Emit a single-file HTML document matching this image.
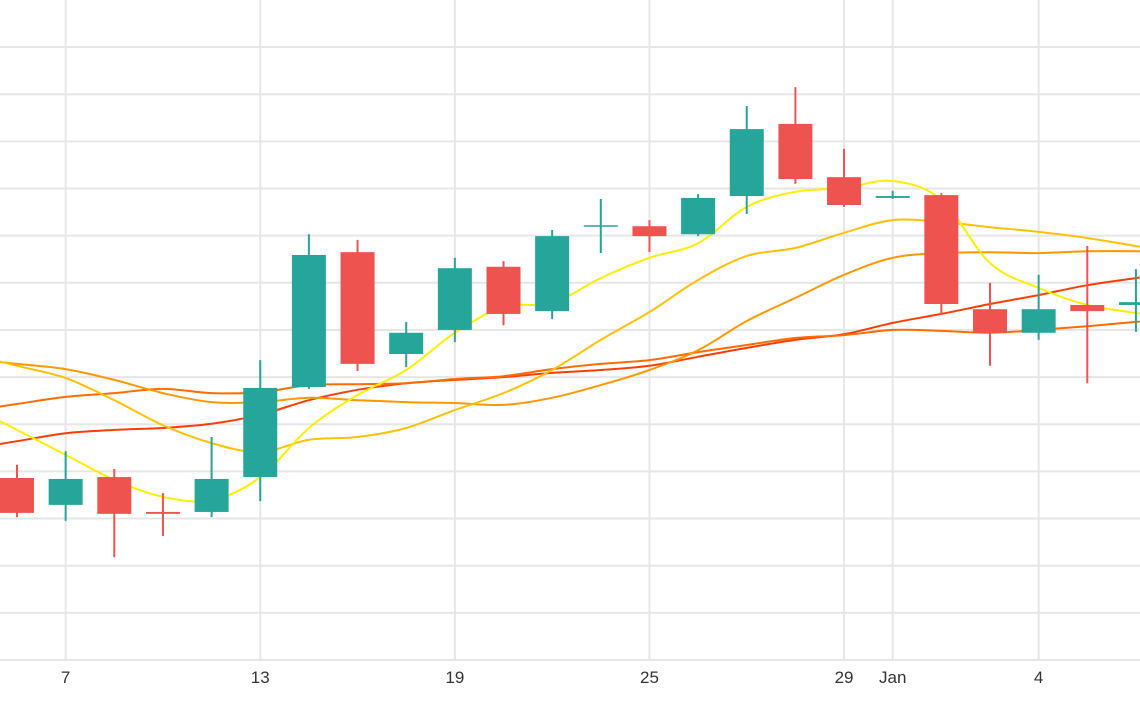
<!DOCTYPE html>
<html><head><meta charset="utf-8">
<style>
html,body{margin:0;padding:0;background:#fff;}
svg{display:block;font-family:"Liberation Sans",sans-serif;}
</style></head>
<body>
<svg id="chart" width="1140" height="710" viewBox="0 0 1140 710" xmlns="http://www.w3.org/2000/svg">
<g id="grid"></g>
<g id="mas"></g>
<g id="candles"></g>
<g id="xaxis"></g>
</svg>
<script>
const opens  = [38.6,32.9,38.8,31.4,31.4,38.8,57.9,86.5,64.9,70.0,83.4,74.0,91.9,92.0,90.3,98.4,113.7,102.4,98.0,98.6,74.4,69.4,75.3,75.3];
const highs  = [41.4,44.3,40.5,35.4,47.3,63.6,90.3,89.1,71.7,85.3,84.6,91.2,97.8,93.3,98.8,117.5,121.5,108.4,99.5,99.0,80.0,81.7,87.8,82.9];
const lows   = [30.3,29.5,21.8,26.3,30.3,33.7,57.5,61.3,62.1,67.4,71.0,72.3,86.3,86.5,89.9,94.6,101.0,96.1,97.8,73.2,62.4,67.9,58.7,69.6];
const closes = [31.2,38.4,31.0,31.0,38.4,57.7,85.9,62.8,69.4,83.1,73.4,89.9,92.2,89.9,98.0,112.6,102.0,96.5,98.4,75.5,69.4,74.4,74.0,75.9];
const maYellow = [48.8,43.5,38.2,34.6,33.9,38.8,49.2,56.2,61.5,69.4,74.9,75.7,81.0,85.3,88.4,96.1,99.3,100.1,101.6,97.6,84.2,78.9,75.3,73.6];
const maGold   = [62.4,59.8,55.1,49.8,46.0,44.1,46.7,47.3,49.2,53.0,56.6,61.5,67.9,73.8,80.6,85.7,87.4,90.6,93.3,92.9,91.8,90.8,89.5,87.8];
const maOrange = [62.8,61.7,59.4,56.6,54.7,54.7,55.6,55.1,54.7,54.5,54.1,55.6,58.3,61.5,65.7,71.9,76.8,81.7,85.3,86.3,86.5,86.3,86.7,86.7];
const maDark   = [54.3,55.8,56.6,57.5,56.6,56.8,58.3,58.5,58.7,59.6,60.2,61.7,62.8,63.6,65.3,66.8,68.3,68.9,70.0,69.8,69.4,70.0,70.8,71.7];
const maRed    = [46.4,48.1,48.8,49.2,50.1,52.0,55.1,57.3,58.7,59.4,60.0,60.9,61.5,62.4,64.3,66.2,67.9,69.1,71.5,73.4,75.5,77.4,79.5,81.0];
const tickIdx    = [1,5,9,13,17,18,21];
const tickLabels = ["7","13","19","25","29","Jan","4"];
const yTicks = [10,20,30,40,50,60,70,80,90,100,110,120,130];

const NS="http://www.w3.org/2000/svg";
const X0=17, DX=48.65, Y0=660, KY=4.715;
function xs(i){return X0+DX*i;}
function ys(v){return Y0-v*KY;}
function mk(tag,attrs,parent){const e=document.createElementNS(NS,tag);for(const k in attrs)e.setAttribute(k,attrs[k]);parent.appendChild(e);return e;}

const grid=document.getElementById('grid');
yTicks.forEach(function(v){
  const l=mk('line',{x1:0,x2:1140,y1:ys(v),y2:ys(v),stroke:'#e6e6e6','stroke-width':2},grid);
  
  
});
const base=mk('line',{x1:0,x2:1140,y1:Y0,y2:Y0,stroke:'#e6e6e6','stroke-width':2},grid);


const xa=document.getElementById('xaxis');
tickIdx.forEach(function(i,k){
  const l=mk('line',{x1:xs(i),x2:xs(i),y1:0,y2:Y0,stroke:'#e6e6e6','stroke-width':2},grid);
  
  
  const t=mk('text',{x:xs(i),y:683,'text-anchor':'middle','font-size':17,fill:'#333'},xa);
  t.textContent=tickLabels[k];
  
  
});

function smoothPath(vals){
  const pts=vals.map(function(v,i){return [xs(i),ys(v)];});
  const f=pts[0],s=pts[1];
  pts.unshift([f[0]-(s[0]-f[0]),f[1]-(s[1]-f[1])]);
  const l=pts[pts.length-1],p=pts[pts.length-2];
  pts.push([l[0]+(l[0]-p[0]),l[1]+(l[1]-p[1])]);
  let d='M'+pts[0][0]+','+pts[0][1];
  for(let i=0;i<pts.length-1;i++){
    const p0=pts[Math.max(0,i-1)],p1=pts[i],p2=pts[i+1],p3=pts[Math.min(pts.length-1,i+2)];
    const c1=[p1[0]+(p2[0]-p0[0])/6,p1[1]+(p2[1]-p0[1])/6];
    const c2=[p2[0]-(p3[0]-p1[0])/6,p2[1]-(p3[1]-p1[1])/6];
    d+=' C'+c1[0].toFixed(1)+','+c1[1].toFixed(1)+' '+c2[0].toFixed(1)+','+c2[1].toFixed(1)+' '+p2[0].toFixed(1)+','+p2[1].toFixed(1);
  }
  return d;
}
const mas=document.getElementById('mas');
const series=[[maRed,'#ff3d00','ma-red'],[maDark,'#ff6d00','ma-dark-orange'],[maOrange,'#ff9800','ma-orange'],[maGold,'#ffc107','ma-gold'],[maYellow,'#ffee00','ma-yellow']];
series.forEach(function(s){
  const p=mk('path',{d:smoothPath(s[0]),fill:'none',stroke:s[1],'stroke-width':2},mas);
  
  
});

const cg=document.getElementById('candles');
const BW=34;
opens.forEach(function(o,i){
  const c=closes[i],up=c>=o,col=up?'#26a69a':'#ef5350';
  const g=mk('g',{},cg);
  
  
  const x=xs(i);
  mk('line',{x1:x,x2:x,y1:ys(highs[i]),y2:ys(lows[i]),stroke:col,'stroke-width':2},g);
  const top=ys(Math.max(o,c)),bot=ys(Math.min(o,c));
  const h=Math.max(1.5,bot-top);
  mk('rect',{x:x-BW/2,y:(top+bot)/2-h/2,width:BW,height:h,fill:col},g);
});
</script>
</body></html>
